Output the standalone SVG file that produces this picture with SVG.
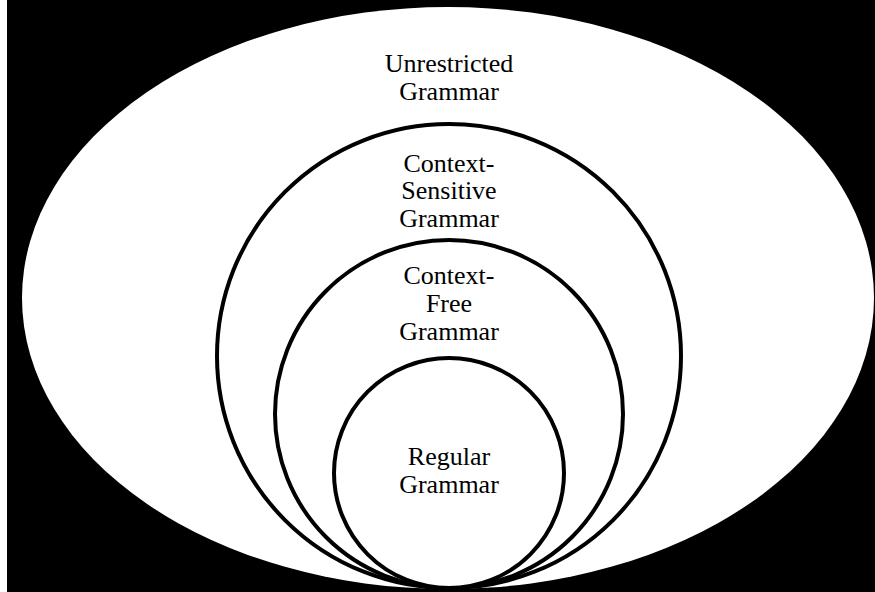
<svg xmlns="http://www.w3.org/2000/svg" width="875" height="592" viewBox="0 0 875 592">
  <style>
    .ring { fill: #fff; stroke: #000; stroke-width: 4; }
    .label { font-family: 'Liberation Serif', 'Times New Roman', 'DejaVu Serif', serif; font-size: 26px; fill: #000; text-anchor: middle; }
  </style>
  <!-- backdrop -->
  <rect x="0" y="0" width="875" height="592" fill="#000"/>
  <rect x="0" y="0" width="7" height="592" fill="#fff"/>

  <g id="unrestricted">
    <ellipse cx="448" cy="298" rx="426" ry="291" fill="#fff"/>
    <text class="label" x="449" y="72">Unrestricted</text>
    <text class="label" x="449" y="100">Grammar</text>
  </g>

  <g id="context-sensitive">
    <circle class="ring" cx="449" cy="356" r="232"/>
    <text class="label" x="449" y="172">Context-</text>
    <text class="label" x="449" y="199">Sensitive</text>
    <text class="label" x="449" y="227">Grammar</text>
  </g>

  <g id="context-free">
    <circle class="ring" cx="449" cy="414" r="174"/>
    <text class="label" x="449" y="284">Context-</text>
    <text class="label" x="449" y="312">Free</text>
    <text class="label" x="449" y="340">Grammar</text>
  </g>

  <g id="regular">
    <circle class="ring" cx="449" cy="473" r="115"/>
    <text class="label" x="449" y="465">Regular</text>
    <text class="label" x="449" y="493">Grammar</text>
  </g>

  <g id="connectors"></g>
</svg>
